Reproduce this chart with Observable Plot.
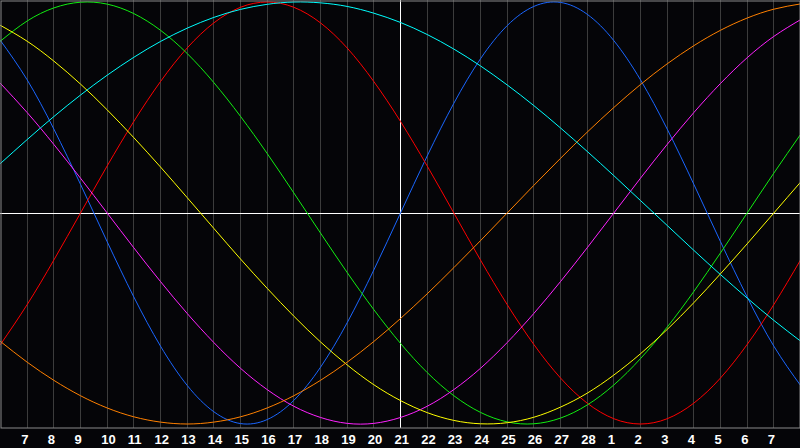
<!DOCTYPE html>
<html>
<head>
<meta charset="utf-8">
<style>
html, body { margin: 0; padding: 0; background: #050508; }
#chart svg { display: block; }
</style>
<script src="https://cdn.jsdelivr.net/npm/d3@7"></script>
<script src="https://cdn.jsdelivr.net/npm/@observablehq/plot@0.6"></script>
</head>
<body>
<div id="chart"></div>
<script>
// Day labels, one per day column (index 0 = left edge)
const dayLabels = ["6","7","8","9","10","11","12","13","14","15","16","17","18","19","20","21","22","23","24","25","26","27","28","1","2","3","4","5","6","7","8"];
const todayLabel = "21";

// Series values (-1 .. 1) read at each day
const physical     = [0.817,0.631,0.398,0.136,-0.136,-0.398,-0.631,-0.817,-0.942,-0.998,-0.979,-0.888,-0.731,-0.520,-0.270,0,0.270,0.520,0.731,0.888,0.979,0.998,0.942,0.817,0.631,0.398,0.136,-0.136,-0.398,-0.631,-0.817];
const emotional    = [-0.623,-0.434,-0.223,0,0.223,0.434,0.623,0.782,0.901,0.975,1.000,0.975,0.901,0.782,0.623,0.434,0.223,0,-0.223,-0.434,-0.623,-0.782,-0.901,-0.975,-1.000,-0.975,-0.901,-0.782,-0.623,-0.434,-0.223];
const intellectual = [0.815,0.910,0.972,0.999,0.990,0.945,0.866,0.756,0.618,0.458,0.282,0.095,-0.095,-0.282,-0.458,-0.618,-0.756,-0.866,-0.945,-0.990,-0.999,-0.972,-0.910,-0.815,-0.690,-0.541,-0.372,-0.189,0,0.189,0.372];
const intuitive    = [0.614,0.476,0.325,0.165,0,-0.165,-0.325,-0.476,-0.614,-0.736,-0.837,-0.916,-0.969,-0.997,-0.997,-0.969,-0.916,-0.837,-0.736,-0.614,-0.476,-0.325,-0.165,0,0.165,0.325,0.476,0.614,0.736,0.837,0.916];
const aesthetic    = [0.889,0.814,0.720,0.611,0.489,0.357,0.218,0.073,-0.073,-0.218,-0.357,-0.489,-0.611,-0.720,-0.814,-0.889,-0.946,-0.983,-0.999,-0.994,-0.968,-0.920,-0.854,-0.768,-0.667,-0.552,-0.425,-0.288,-0.146,0,0.146];
const awareness    = [-0.609,-0.707,-0.793,-0.866,-0.924,-0.966,-0.991,-1.000,-0.991,-0.966,-0.924,-0.866,-0.793,-0.707,-0.609,-0.500,-0.383,-0.259,-0.131,0,0.131,0.259,0.383,0.500,0.609,0.707,0.793,0.866,0.924,0.966,0.991];
const spiritual    = [0.235,0.348,0.457,0.559,0.653,0.738,0.813,0.876,0.927,0.965,0.989,1.000,0.996,0.979,0.947,0.903,0.846,0.777,0.697,0.607,0.509,0.403,0.292,0.177,0.059,-0.059,-0.177,-0.292,-0.403,-0.509,-0.607];

const seriesNames  = ["Physical","Emotional","Intellectual","Intuitive","Aesthetic","Awareness","Spiritual"];
const seriesColors = ["#1a66ff","#ff0000","#11ee11","#ff22ff","#ffff00","#ff8000","#00ffff"];
const seriesValues = [physical, emotional, intellectual, intuitive, aesthetic, awareness, spiritual];

const rows = seriesValues.flatMap((vals, s) => vals.map((v, i) => ({i, v, name: seriesNames[s]})));
const days = dayLabels.map((label, i) => ({i, label}));
const todayIdx = dayLabels.indexOf(todayLabel);
const gridDays = days.filter(d => d.i > 0 && d.i < dayLabels.length - 1 && d.i !== todayIdx);
const labelDays = days.filter(d => d.i > 0 && d.i < dayLabels.length - 1);

const chart = Plot.plot({
  width: 800,
  height: 448,
  marginTop: 0,
  marginLeft: 0,
  marginRight: 0,
  marginBottom: 20,
  style: {background: "#050508", overflow: "visible"},
  x: {domain: [0, dayLabels.length - 1], range: [0, 800], axis: null},
  y: {domain: [-1, 1], range: [423.5, 1.5], axis: null},
  color: {domain: seriesNames, range: seriesColors},
  marks: [
    Plot.ruleX(gridDays, {x: "i", stroke: "#3c3c3c", strokeWidth: 1, shapeRendering: "crispEdges"}),
    Plot.ruleY([0], {stroke: "#ffffff", strokeWidth: 1, shapeRendering: "crispEdges"}),
    Plot.ruleX([todayIdx], {stroke: "#ffffff", strokeWidth: 1, shapeRendering: "crispEdges"}),
    Plot.line(rows, {x: "i", y: "v", z: "name", stroke: "name", strokeWidth: 1, curve: "natural"}),
    Plot.frame({stroke: "#8a8a8a", inset: 0.5}),
    Plot.text(labelDays, {
      x: "i", text: "label", frameAnchor: "bottom", textAnchor: "start", lineAnchor: "bottom",
      dx: -6, dy: 15, fill: "#ffffff", fontFamily: "Liberation Sans", fontWeight: "bold", fontSize: 13
    })
  ]
});
document.getElementById("chart").appendChild(chart);
</script>
</body>
</html>
